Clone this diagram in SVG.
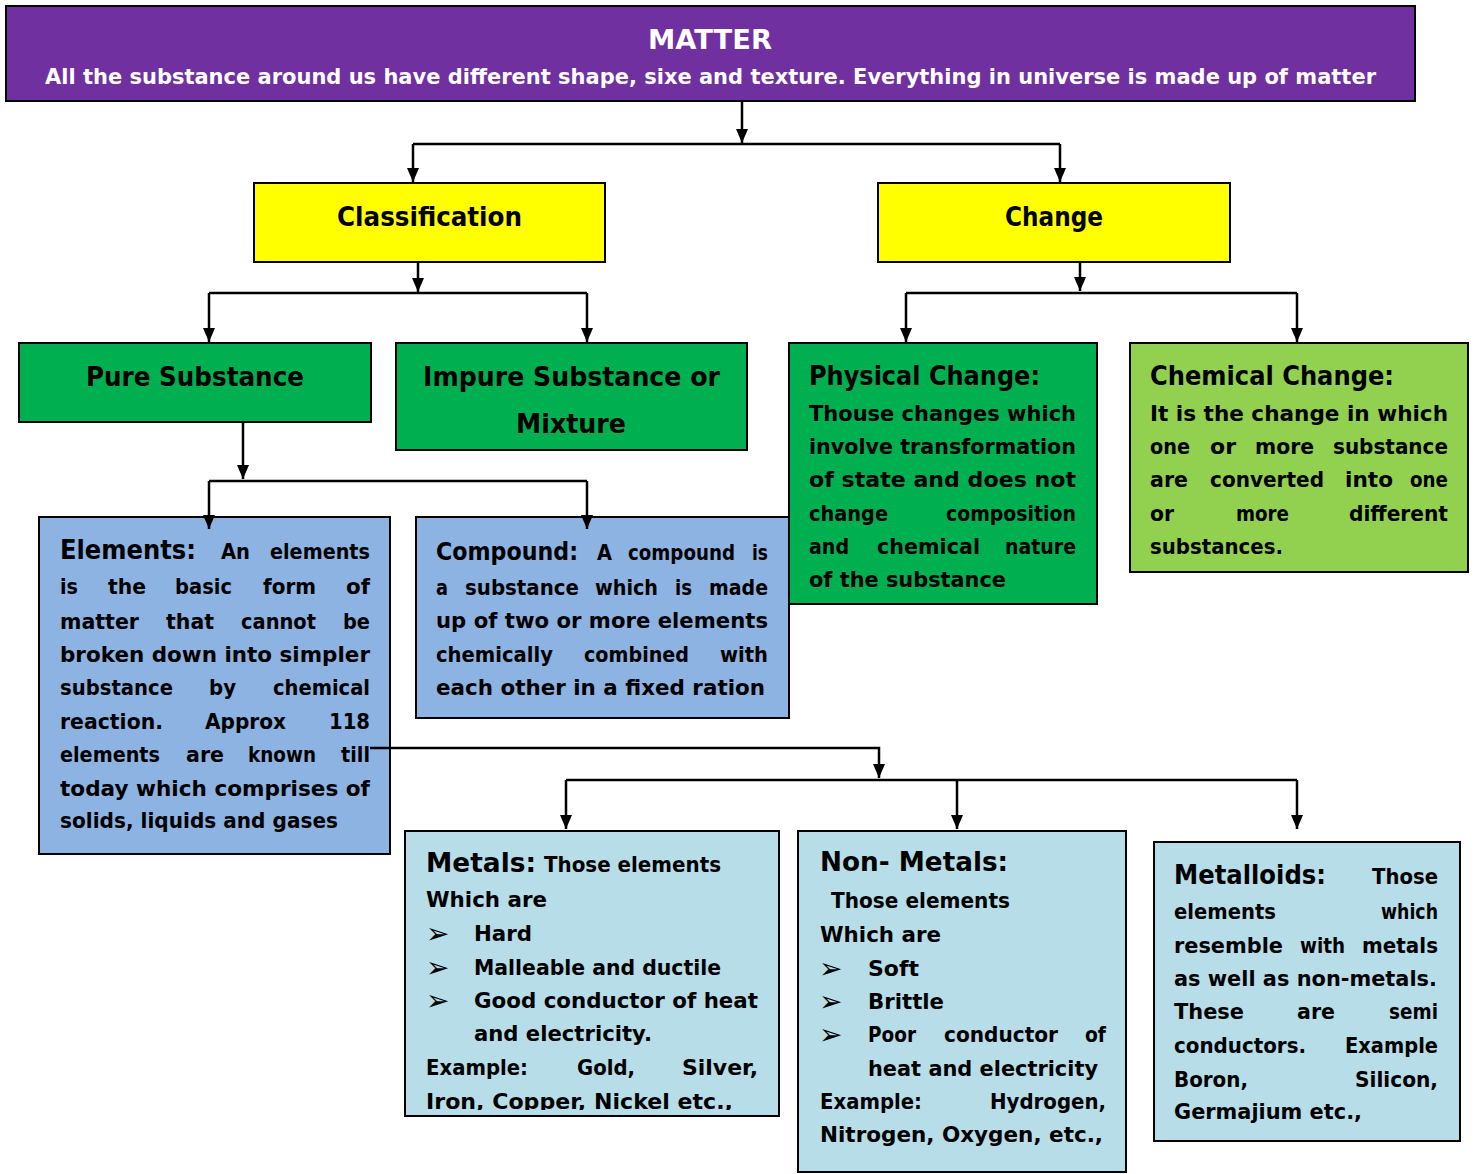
<svg xmlns="http://www.w3.org/2000/svg" width="1478" height="1174" viewBox="0 0 1478 1174">
<defs>
<marker id="ah" markerUnits="userSpaceOnUse" markerWidth="14" markerHeight="12" refX="14" refY="6" orient="auto">
<path d="M0,0 L14,6 L0,12 z" fill="#000"/>
</marker>
<clipPath id="clipMetals"><rect x="405" y="831" width="374" height="279"/></clipPath>
</defs>
<style>
.box{stroke:#000;stroke-width:2}
.t{font-family:"DejaVu Sans","Liberation Sans",sans-serif;font-weight:bold;fill:#000}
.b{font-size:22px}
.h{font-size:27px}
.w{fill:#fff}
.bul{font-family:"DejaVu Sans","Liberation Sans",sans-serif;font-size:28px;fill:#000}
.c{fill:none;stroke:#000;stroke-width:2.5}
</style>
<rect width="1478" height="1174" fill="#fff"/>

<g id="matter">
<rect class="box" x="6" y="6" width="1409" height="95" fill="#7030A0"/>
<text class="t h w" x="648" y="49" textLength="124" lengthAdjust="spacingAndGlyphs">MATTER</text>
<text class="t b w" x="45" y="84" textLength="1331" lengthAdjust="spacingAndGlyphs">All the substance around us have different shape, sixe and texture. Everything in universe is made up of matter</text>
</g>

<g id="classification">
<rect class="box" x="254" y="183" width="351" height="79" fill="#FFFF00"/>
<text class="t h" x="337" y="226" textLength="185" lengthAdjust="spacingAndGlyphs">Classification</text>
</g>

<g id="change">
<rect class="box" x="878" y="183" width="352" height="79" fill="#FFFF00"/>
<text class="t h" x="1005" y="226" textLength="98" lengthAdjust="spacingAndGlyphs">Change</text>
</g>

<g id="pure">
<rect class="box" x="19" y="343" width="352" height="79" fill="#00B050"/>
<text class="t h" x="86" y="386" textLength="218" lengthAdjust="spacingAndGlyphs">Pure Substance</text>
</g>

<g id="impure">
<rect class="box" x="396" y="343" width="351" height="107" fill="#00B050"/>
<text class="t h" x="423" y="386" textLength="297" lengthAdjust="spacingAndGlyphs">Impure Substance or</text>
<text class="t h" x="516" y="433" textLength="110" lengthAdjust="spacingAndGlyphs">Mixture</text>
</g>

<g id="physical">
<rect class="box" x="789" y="343" width="308" height="261" fill="#00B050"/>
<text class="t h" x="809" y="385" textLength="231" lengthAdjust="spacingAndGlyphs">Physical Change:</text>
<text class="t b" x="809" y="421" textLength="267" lengthAdjust="spacingAndGlyphs">Thouse changes which</text>
<text class="t b" x="809" y="454" textLength="267" lengthAdjust="spacingAndGlyphs">involve transformation</text>
<text class="t b" x="809" y="487" textLength="267" lengthAdjust="spacingAndGlyphs">of state and does not</text>
<text class="t b" x="809" y="521" textLength="79" lengthAdjust="spacingAndGlyphs">change</text>
<text class="t b" x="946" y="521" textLength="130" lengthAdjust="spacingAndGlyphs">composition</text>
<text class="t b" x="809" y="554" textLength="40" lengthAdjust="spacingAndGlyphs">and</text>
<text class="t b" x="877" y="554" textLength="103" lengthAdjust="spacingAndGlyphs">chemical</text>
<text class="t b" x="1005" y="554" textLength="71" lengthAdjust="spacingAndGlyphs">nature</text>
<text class="t b" x="809" y="587" textLength="197" lengthAdjust="spacingAndGlyphs">of the substance</text>
</g>

<g id="chemical">
<rect class="box" x="1130" y="343" width="338" height="229" fill="#92D050"/>
<text class="t h" x="1150" y="385" textLength="244" lengthAdjust="spacingAndGlyphs">Chemical Change:</text>
<text class="t b" x="1150" y="421" textLength="298" lengthAdjust="spacingAndGlyphs">It is the change in which</text>
<text class="t b" x="1150" y="454" textLength="40" lengthAdjust="spacingAndGlyphs">one</text>
<text class="t b" x="1210" y="454" textLength="26" lengthAdjust="spacingAndGlyphs">or</text>
<text class="t b" x="1255" y="454" textLength="59" lengthAdjust="spacingAndGlyphs">more</text>
<text class="t b" x="1333" y="454" textLength="115" lengthAdjust="spacingAndGlyphs">substance</text>
<text class="t b" x="1150" y="487" textLength="38" lengthAdjust="spacingAndGlyphs">are</text>
<text class="t b" x="1210" y="487" textLength="114" lengthAdjust="spacingAndGlyphs">converted</text>
<text class="t b" x="1345" y="487" textLength="48" lengthAdjust="spacingAndGlyphs">into</text>
<text class="t b" x="1410" y="487" textLength="38" lengthAdjust="spacingAndGlyphs">one</text>
<text class="t b" x="1150" y="521" textLength="24" lengthAdjust="spacingAndGlyphs">or</text>
<text class="t b" x="1236" y="521" textLength="53" lengthAdjust="spacingAndGlyphs">more</text>
<text class="t b" x="1349" y="521" textLength="99" lengthAdjust="spacingAndGlyphs">different</text>
<text class="t b" x="1150" y="554" textLength="133" lengthAdjust="spacingAndGlyphs">substances.</text>
</g>

<g id="elements">
<rect class="box" x="39" y="517" width="351" height="337" fill="#8DB3E2"/>
<text class="t h" x="60" y="559" textLength="136" lengthAdjust="spacingAndGlyphs">Elements:</text>
<text class="t b" x="221" y="559" textLength="29" lengthAdjust="spacingAndGlyphs">An</text>
<text class="t b" x="270" y="559" textLength="100" lengthAdjust="spacingAndGlyphs">elements</text>
<text class="t b" x="60" y="594" textLength="18" lengthAdjust="spacingAndGlyphs">is</text>
<text class="t b" x="108" y="594" textLength="38" lengthAdjust="spacingAndGlyphs">the</text>
<text class="t b" x="175" y="594" textLength="57" lengthAdjust="spacingAndGlyphs">basic</text>
<text class="t b" x="263" y="594" textLength="53" lengthAdjust="spacingAndGlyphs">form</text>
<text class="t b" x="346" y="594" textLength="24" lengthAdjust="spacingAndGlyphs">of</text>
<text class="t b" x="60" y="629" textLength="79" lengthAdjust="spacingAndGlyphs">matter</text>
<text class="t b" x="166" y="629" textLength="48" lengthAdjust="spacingAndGlyphs">that</text>
<text class="t b" x="241" y="629" textLength="75" lengthAdjust="spacingAndGlyphs">cannot</text>
<text class="t b" x="343" y="629" textLength="27" lengthAdjust="spacingAndGlyphs">be</text>
<text class="t b" x="60" y="662" textLength="310" lengthAdjust="spacingAndGlyphs">broken down into simpler</text>
<text class="t b" x="60" y="695" textLength="113" lengthAdjust="spacingAndGlyphs">substance</text>
<text class="t b" x="209" y="695" textLength="27" lengthAdjust="spacingAndGlyphs">by</text>
<text class="t b" x="273" y="695" textLength="97" lengthAdjust="spacingAndGlyphs">chemical</text>
<text class="t b" x="60" y="729" textLength="103" lengthAdjust="spacingAndGlyphs">reaction.</text>
<text class="t b" x="205" y="729" textLength="81" lengthAdjust="spacingAndGlyphs">Approx</text>
<text class="t b" x="329" y="729" textLength="41" lengthAdjust="spacingAndGlyphs">118</text>
<text class="t b" x="60" y="762" textLength="100" lengthAdjust="spacingAndGlyphs">elements</text>
<text class="t b" x="186" y="762" textLength="38" lengthAdjust="spacingAndGlyphs">are</text>
<text class="t b" x="248" y="762" textLength="68" lengthAdjust="spacingAndGlyphs">known</text>
<text class="t b" x="341" y="762" textLength="29" lengthAdjust="spacingAndGlyphs">till</text>
<text class="t b" x="60" y="796" textLength="310" lengthAdjust="spacingAndGlyphs">today which comprises of</text>
<text class="t b" x="60" y="828" textLength="278" lengthAdjust="spacingAndGlyphs">solids, liquids and gases</text>
</g>

<g id="compound">
<rect class="box" x="416" y="517" width="373" height="201" fill="#8DB3E2"/>
<text class="t" style="font-size:25px" x="436" y="560" textLength="142" lengthAdjust="spacingAndGlyphs">Compound:</text>
<text class="t" style="font-size:21px" x="597" y="560" textLength="15" lengthAdjust="spacingAndGlyphs">A</text>
<text class="t" style="font-size:21px" x="628" y="560" textLength="107" lengthAdjust="spacingAndGlyphs">compound</text>
<text class="t" style="font-size:21px" x="752" y="560" textLength="16" lengthAdjust="spacingAndGlyphs">is</text>
<text class="t b" x="436" y="595" textLength="12" lengthAdjust="spacingAndGlyphs">a</text>
<text class="t b" x="465" y="595" textLength="114" lengthAdjust="spacingAndGlyphs">substance</text>
<text class="t b" x="595" y="595" textLength="63" lengthAdjust="spacingAndGlyphs">which</text>
<text class="t b" x="675" y="595" textLength="17" lengthAdjust="spacingAndGlyphs">is</text>
<text class="t b" x="709" y="595" textLength="59" lengthAdjust="spacingAndGlyphs">made</text>
<text class="t b" x="436" y="628" textLength="332" lengthAdjust="spacingAndGlyphs">up of two or more elements</text>
<text class="t b" x="436" y="662" textLength="117" lengthAdjust="spacingAndGlyphs">chemically</text>
<text class="t b" x="584" y="662" textLength="105" lengthAdjust="spacingAndGlyphs">combined</text>
<text class="t b" x="720" y="662" textLength="48" lengthAdjust="spacingAndGlyphs">with</text>
<text class="t b" x="436" y="695" textLength="329" lengthAdjust="spacingAndGlyphs">each other in a fixed ration</text>
</g>

<g id="metals">
<rect class="box" x="405" y="831" width="374" height="285" fill="#B7DDE8"/>
<text class="t h" x="426" y="872" textLength="110" lengthAdjust="spacingAndGlyphs">Metals:</text>
<text class="t b" x="544" y="872" textLength="177" lengthAdjust="spacingAndGlyphs">Those elements</text>
<text class="t b" x="426" y="907" textLength="121" lengthAdjust="spacingAndGlyphs">Which are</text>
<text class="bul" x="426" y="943">➢</text>
<text class="t b" x="474" y="941" textLength="58" lengthAdjust="spacingAndGlyphs">Hard</text>
<text class="bul" x="426" y="977">➢</text>
<text class="t b" x="474" y="975" textLength="247" lengthAdjust="spacingAndGlyphs">Malleable and ductile</text>
<text class="bul" x="426" y="1010">➢</text>
<text class="t b" x="474" y="1008" textLength="284" lengthAdjust="spacingAndGlyphs">Good conductor of heat</text>
<text class="t b" x="474" y="1041" textLength="178" lengthAdjust="spacingAndGlyphs">and electricity.</text>
<text class="t b" x="426" y="1075" textLength="102" lengthAdjust="spacingAndGlyphs">Example:</text>
<text class="t b" x="577" y="1075" textLength="58" lengthAdjust="spacingAndGlyphs">Gold,</text>
<text class="t b" x="682" y="1075" textLength="76" lengthAdjust="spacingAndGlyphs">Silver,</text>
<text class="t b" x="426" y="1109" textLength="307" lengthAdjust="spacingAndGlyphs" clip-path="url(#clipMetals)">Iron, Copper, Nickel etc.,</text>
</g>

<g id="nonmetals">
<rect class="box" x="798" y="831" width="328" height="341" fill="#B7DDE8"/>
<text class="t h" x="820" y="871" textLength="188" lengthAdjust="spacingAndGlyphs">Non- Metals:</text>
<text class="t b" x="831" y="908" textLength="179" lengthAdjust="spacingAndGlyphs">Those elements</text>
<text class="t b" x="820" y="942" textLength="121" lengthAdjust="spacingAndGlyphs">Which are</text>
<text class="bul" x="819" y="978">➢</text>
<text class="t b" x="868" y="976" textLength="51" lengthAdjust="spacingAndGlyphs">Soft</text>
<text class="bul" x="819" y="1011">➢</text>
<text class="t b" x="868" y="1009" textLength="76" lengthAdjust="spacingAndGlyphs">Brittle</text>
<text class="bul" x="819" y="1044">➢</text>
<text class="t b" x="868" y="1042" textLength="48" lengthAdjust="spacingAndGlyphs">Poor</text>
<text class="t b" x="944" y="1042" textLength="114" lengthAdjust="spacingAndGlyphs">conductor</text>
<text class="t b" x="1085" y="1042" textLength="21" lengthAdjust="spacingAndGlyphs">of</text>
<text class="t b" x="868" y="1076" textLength="230" lengthAdjust="spacingAndGlyphs">heat and electricity</text>
<text class="t b" x="820" y="1109" textLength="102" lengthAdjust="spacingAndGlyphs">Example:</text>
<text class="t b" x="990" y="1109" textLength="116" lengthAdjust="spacingAndGlyphs">Hydrogen,</text>
<text class="t b" x="820" y="1142" textLength="283" lengthAdjust="spacingAndGlyphs">Nitrogen, Oxygen, etc.,</text>
</g>

<g id="metalloids">
<rect class="box" x="1154" y="842" width="306" height="299" fill="#B7DDE8"/>
<text class="t h" x="1174" y="884" textLength="152" lengthAdjust="spacingAndGlyphs">Metalloids:</text>
<text class="t b" x="1372" y="884" textLength="66" lengthAdjust="spacingAndGlyphs">Those</text>
<text class="t b" x="1174" y="919" textLength="102" lengthAdjust="spacingAndGlyphs">elements</text>
<text class="t b" x="1381" y="919" textLength="57" lengthAdjust="spacingAndGlyphs">which</text>
<text class="t b" x="1174" y="953" textLength="109" lengthAdjust="spacingAndGlyphs">resemble</text>
<text class="t b" x="1300" y="953" textLength="45" lengthAdjust="spacingAndGlyphs">with</text>
<text class="t b" x="1362" y="953" textLength="76" lengthAdjust="spacingAndGlyphs">metals</text>
<text class="t b" x="1174" y="986" textLength="263" lengthAdjust="spacingAndGlyphs">as well as non-metals.</text>
<text class="t b" x="1174" y="1019" textLength="70" lengthAdjust="spacingAndGlyphs">These</text>
<text class="t b" x="1297" y="1019" textLength="38" lengthAdjust="spacingAndGlyphs">are</text>
<text class="t b" x="1389" y="1019" textLength="49" lengthAdjust="spacingAndGlyphs">semi</text>
<text class="t b" x="1174" y="1053" textLength="132" lengthAdjust="spacingAndGlyphs">conductors.</text>
<text class="t b" x="1345" y="1053" textLength="93" lengthAdjust="spacingAndGlyphs">Example</text>
<text class="t b" x="1174" y="1087" textLength="74" lengthAdjust="spacingAndGlyphs">Boron,</text>
<text class="t b" x="1355" y="1087" textLength="83" lengthAdjust="spacingAndGlyphs">Silicon,</text>
<text class="t b" x="1174" y="1119" textLength="188" lengthAdjust="spacingAndGlyphs">Germajium etc.,</text>
</g>

<g id="connectors">
<path class="c" d="M742,102 V143" marker-end="url(#ah)"/>
<path class="c" d="M413,144 H1060"/>
<path class="c" d="M413,144 V182" marker-end="url(#ah)"/>
<path class="c" d="M1060,144 V182" marker-end="url(#ah)"/>
<path class="c" d="M418,262 V292" marker-end="url(#ah)"/>
<path class="c" d="M209,293 H587"/>
<path class="c" d="M209,293 V342" marker-end="url(#ah)"/>
<path class="c" d="M587,293 V342" marker-end="url(#ah)"/>
<path class="c" d="M1080,262 V291" marker-end="url(#ah)"/>
<path class="c" d="M906,293 H1297"/>
<path class="c" d="M906,293 V342" marker-end="url(#ah)"/>
<path class="c" d="M1297,293 V342" marker-end="url(#ah)"/>
<path class="c" d="M243,422 V479" marker-end="url(#ah)"/>
<path class="c" d="M209,481 H587"/>
<path class="c" d="M209,481 V529" marker-end="url(#ah)"/>
<path class="c" d="M587,481 V529" marker-end="url(#ah)"/>
<path class="c" d="M370,748 H879 V778" marker-end="url(#ah)"/>
<path class="c" d="M566,780 H1297"/>
<path class="c" d="M566,780 V829" marker-end="url(#ah)"/>
<path class="c" d="M957,780 V829" marker-end="url(#ah)"/>
<path class="c" d="M1297,780 V829" marker-end="url(#ah)"/>
</g>
</svg>
